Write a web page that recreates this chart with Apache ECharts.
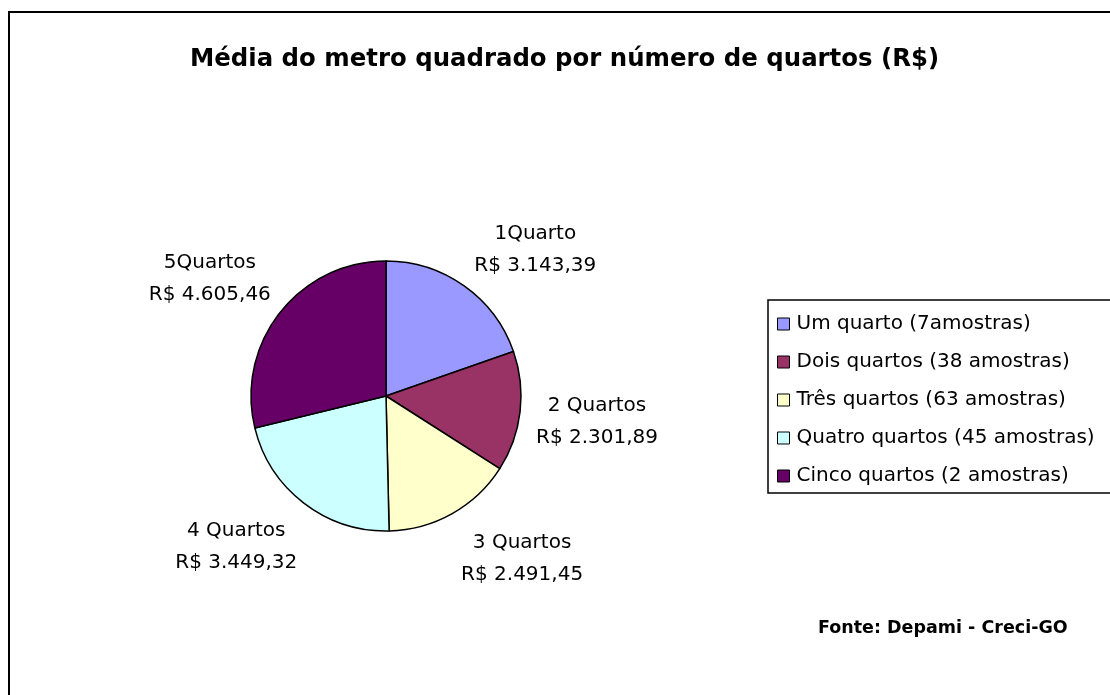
<!DOCTYPE html>
<html>
<head>
<meta charset="utf-8">
<script src="https://cdn.jsdelivr.net/npm/echarts@6/dist/echarts.min.js"></script>
<style>
  html, body { margin: 0; padding: 0; background: #fff; }
  #chart { width: 1110px; height: 695px; }
</style>
</head>
<body>
<div id="chart"></div>
<script>
const categories = [
  'Um quarto (7amostras)',
  'Dois quartos (38 amostras)',
  'Três quartos (63 amostras)',
  'Quatro quartos (45 amostras)',
  'Cinco quartos (2 amostras)'
]
const sliceLabels = ['1Quarto', '2 Quartos', '3 Quartos', '4 Quartos', '5Quartos']
const values = [3143.39, 2301.89, 2491.45, 3449.32, 4605.46]
const colors = ['#9999ff', '#993366', '#ffffcc', '#ccffff', '#660066']

const FONT = '"DejaVu Sans", "Liberation Sans", Arial, sans-serif'
const CENTER = [386, 396]
const RADIUS = 135

function formatBRL(v) {
  const [i, d] = v.toFixed(2).split('.')
  return 'R$ ' + i.replace(/\B(?=(\d{3})+(?!\d))/g, '.') + ',' + d
}

// mid angle of each slice, clockwise from 12 o'clock
const total = values.reduce((a, b) => a + b, 0)
const midAngles = []
let acc = 0
values.forEach(v => {
  midAngles.push((acc + v / 2) / total * Math.PI * 2)
  acc += v
})

const clamp = (x) => Math.max(-1, Math.min(1, x))

const chart = echarts.init(document.getElementById('chart'), null, { renderer: 'canvas' })

chart.setOption({
  backgroundColor: '#fff',
  animation: false,
  textStyle: { fontFamily: FONT },
  title: {
    text: 'Média do metro quadrado por número de quartos (R$)',
    left: 190,
    top: 48,
    padding: 0,
    textStyle: { fontFamily: FONT, fontSize: 24.4, fontWeight: 'bold', color: '#000' }
  },
  legend: {
    orient: 'vertical',
    left: 768,
    top: 300,
    data: categories,
    icon: 'rect',
    itemWidth: 12,
    itemHeight: 12,
    itemGap: 18,
    padding: [14, 40, 7, 9],
    borderColor: '#000',
    borderWidth: 1.5,
    selectedMode: false,
    itemStyle: { borderColor: '#000', borderWidth: 1 },
    textStyle: { fontFamily: FONT, fontSize: 20, color: '#000', padding: [0, 0, 0, 2] }
  },
  graphic: [
    {
      type: 'rect',
      z: -1,
      shape: { x: 9, y: 12, width: 1300, height: 900 },
      style: { fill: 'none', stroke: '#000', lineWidth: 2 }
    },
    {
      type: 'text',
      x: 818,
      y: 628,
      style: {
        text: 'Fonte: Depami - Creci-GO',
        fontFamily: FONT,
        fontSize: 17.5,
        fontWeight: 'bold',
        fill: '#000',
        textVerticalAlign: 'middle'
      }
    }
  ],
  series: [
    {
      type: 'pie',
      center: CENTER,
      radius: RADIUS,
      startAngle: 90,
      clockwise: true,
      avoidLabelOverlap: false,
      itemStyle: { borderColor: '#000', borderWidth: 1.5 },
      emphasis: { disabled: true },
      labelLine: { show: false },
      label: {
        show: true,
        position: 'outside',
        fontFamily: FONT,
        fontSize: 20,
        lineHeight: 32,
        color: '#000',
        formatter: (p) => sliceLabels[p.dataIndex] + '\n' + formatBRL(p.value)
      },
      // Excel-like placement: nearest corner of the label box sits just off the rim
      labelLayout: (p) => {
        const a = midAngles[p.dataIndex]
        const dx = Math.sin(a)
        const dy = -Math.cos(a)
        const w = p.labelRect.width
        const h = p.labelRect.height - 10
        const ax = CENTER[0] + (RADIUS + 14) * dx
        const ay = CENTER[1] + (RADIUS + 14) * dy
        return {
          x: ax + clamp(2.5 * dx) * w / 2 + 2,
          y: ay + clamp(2 * dy) * h / 2 + 2 + Math.max(0, dy) * 5,
          align: 'center',
          verticalAlign: 'middle'
        }
      },
      data: categories.map((name, i) => ({
        name,
        value: values[i],
        itemStyle: { color: colors[i] }
      }))
    }
  ]
})
</script>
</body>
</html>
